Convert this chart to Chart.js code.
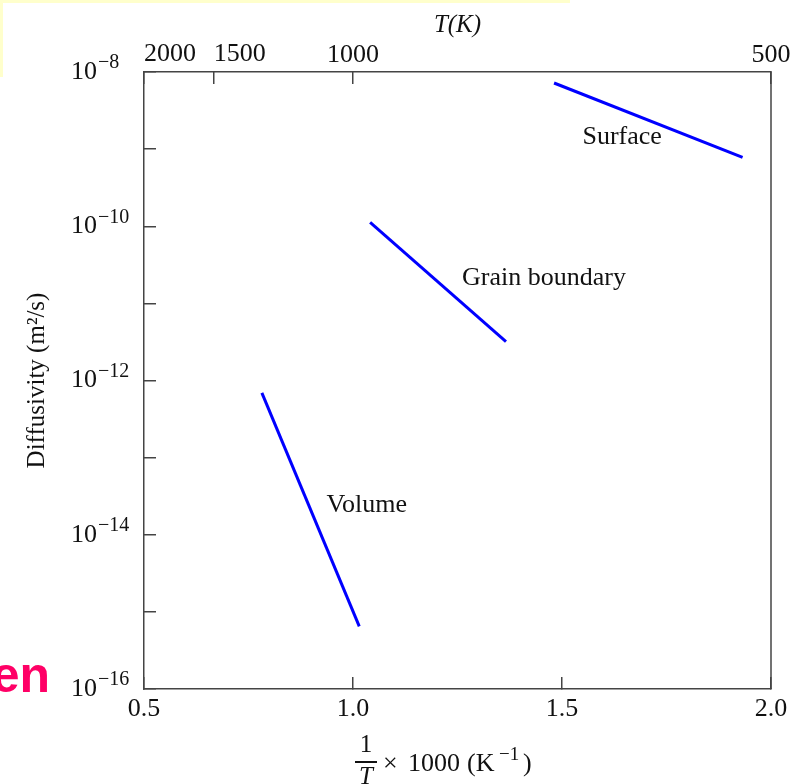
<!DOCTYPE html>
<html>
<head>
<meta charset="utf-8">
<script src="https://cdn.jsdelivr.net/npm/chart.js@4.4.1/dist/chart.umd.min.js"></script>
<style>
  body { margin: 0; background: #fff; }
  canvas { display: block; }
</style>
</head>
<body>
<canvas id="chart" width="800" height="784"></canvas>
<script>
// data (x = 1000/T, y = diffusivity in m^2/s)
const volumeX = [0.782, 1.015];
const volumeD = [6.9e-13, 6.5e-16];
const grainX = [1.041, 1.366];
const grainD = [1.12e-10, 3.2e-12];
const surfaceX = [1.481, 1.932];
const surfaceD = [7.2e-9, 7.8e-10];

// labels next to the lines
const lineLabels = ['Surface', 'Grain boundary', 'Volume'];
const labelX = [1.644, 1.457, 1.033];
const labelD = [1.45e-9, 2.15e-11, 2.4e-14];

// axes
const xTicks = [0.5, 1.0, 1.5, 2.0];
const tempTicksHot = [2000, 1500];   // labels start at the tick
const tempTicksCold = [1000, 500];   // labels centred on the tick
const decadeExps = [-16, -15, -14, -13, -12, -11, -10, -9, -8];

const SERIF = '"Liberation Serif", "DejaVu Serif", serif';
const ink = '#111';
const axisColor = '#444';

function pts(xs, ys) { return xs.map((x, i) => ({x: x, y: ys[i]})); }
function decade(v) { return Math.round(Math.log10(v)); }
function noSidePad(axis) { axis.paddingLeft = 0; axis.paddingRight = 0; }

const lineStyle = {
    borderColor: '#0000ff',
    borderWidth: 3,
    pointRadius: 0,
    fill: false,
    tension: 0
};

const gridStyle = {
    drawOnChartArea: false,
    drawTicks: true,
    tickLength: -12,
    color: axisColor,
    lineWidth: 1.5
};
const tickFont = { family: SERIF, size: 26 };

// exponents of the y labels, line labels, right frame edge, bottom title, slide leftovers
const extras = {
    id: 'extras',
    afterDraw(chart) {
        const ctx = chart.ctx;
        const xs = chart.scales.x, ys = chart.scales.y;
        const area = chart.chartArea;
        ctx.save();

        ctx.strokeStyle = axisColor;
        ctx.lineWidth = 1.5;
        ctx.beginPath();
        ctx.moveTo(area.right, area.top);
        ctx.lineTo(area.right, area.bottom);
        ctx.stroke();

        // superscript exponents after the "10" of each labelled decade
        ctx.fillStyle = ink;
        ctx.font = '20px ' + SERIF;
        ctx.textAlign = 'left';
        ctx.textBaseline = 'middle';
        ys.ticks.forEach((t) => {
            const e = decade(t.value);
            if (e % 2 !== 0) return;
            ctx.fillText('\u2212' + Math.abs(e), 98, ys.getPixelForValue(t.value) - 9);
        });

        // line labels
        ctx.font = '26px ' + SERIF;
        ctx.textAlign = 'center';
        lineLabels.forEach((t, i) => {
            ctx.fillText(t, xs.getPixelForValue(labelX[i]), ys.getPixelForValue(labelD[i]));
        });

        // bottom axis title: 1/T x 1000 (K^-1)
        const fx = 366;
        ctx.textBaseline = 'alphabetic';
        ctx.font = '25px ' + SERIF;
        ctx.fillText('1', fx, 752);
        ctx.font = 'italic 25px ' + SERIF;
        ctx.fillText('T', fx, 784);
        ctx.lineWidth = 2;
        ctx.strokeStyle = ink;
        ctx.beginPath();
        ctx.moveTo(fx - 11, 762);
        ctx.lineTo(fx + 11, 762);
        ctx.stroke();
        ctx.textAlign = 'left';
        ctx.font = '26px ' + SERIF;
        ctx.fillText('\u00D7', 383, 771);
        ctx.fillText('1000', 408, 771);
        ctx.fillText('(K', 467, 771);
        ctx.fillText(')', 523, 771);
        ctx.font = '19px ' + SERIF;
        ctx.fillText('\u22121', 499, 760);

        // slide leftovers: yellow box edge and cut-off heading
        ctx.fillStyle = '#ffffcc';
        ctx.fillRect(0, 0, 570, 3);
        ctx.fillRect(0, 0, 3, 77);
        ctx.fillStyle = '#ff0066';
        ctx.font = 'bold 50px "Liberation Sans", Arial, sans-serif';
        ctx.textAlign = 'right';
        ctx.fillText('en', 50, 692);

        ctx.restore();
    }
};

new Chart(document.getElementById('chart'), {
    type: 'line',
    data: {
        datasets: [
            Object.assign({label: 'Surface', data: pts(surfaceX, surfaceD)}, lineStyle),
            Object.assign({label: 'Grain boundary', data: pts(grainX, grainD)}, lineStyle),
            Object.assign({label: 'Volume', data: pts(volumeX, volumeD)}, lineStyle)
        ]
    },
    options: {
        responsive: false,
        animation: false,
        layout: { padding: { left: 0, right: 29, top: 0, bottom: 0 } },
        plugins: { legend: { display: false }, tooltip: { enabled: false } },
        scales: {
            x: {
                type: 'linear',
                position: 'bottom',
                min: 0.5,
                max: 2.0,
                afterBuildTicks: (axis) => { axis.ticks = xTicks.map(v => ({value: v})); },
                afterFit: (axis) => { axis.height = 95; noSidePad(axis); },
                ticks: {
                    color: ink,
                    padding: 17,
                    maxRotation: 0,
                    font: tickFont,
                    callback: (v) => Number(v).toFixed(1)
                },
                grid: gridStyle,
                border: { color: axisColor, width: 1.5 }
            },
            x2: {
                type: 'linear',
                position: 'top',
                min: 0.5,
                max: 2.0,
                afterBuildTicks: (axis) => { axis.ticks = tempTicksCold.map(t => ({value: 1000 / t})); },
                afterFit: (axis) => { axis.height = 72; noSidePad(axis); },
                ticks: {
                    color: ink,
                    padding: 13,
                    maxRotation: 0,
                    autoSkip: false,
                    font: tickFont,
                    callback: (v) => String(Math.round(1000 / v))
                },
                title: {
                    display: true,
                    text: 'T(K)',
                    color: ink,
                    padding: { top: 10, bottom: 0 },
                    font: { family: SERIF, size: 25, style: 'italic' }
                },
                grid: gridStyle,
                border: { color: axisColor, width: 1.5 }
            },
            // same temperature axis, pinned to the top edge, for the two crowded labels
            x3: {
                type: 'linear',
                position: { y: 1e-8 },
                min: 0.5,
                max: 2.0,
                afterBuildTicks: (axis) => { axis.ticks = tempTicksHot.map(t => ({value: 1000 / t})); },
                ticks: {
                    color: ink,
                    padding: -45,
                    maxRotation: 0,
                    autoSkip: false,
                    align: 'start',
                    font: tickFont,
                    callback: (v) => String(Math.round(1000 / v))
                },
                grid: Object.assign({}, gridStyle, { tickLength: 12 }),
                border: { display: false }
            },
            y: {
                type: 'logarithmic',
                min: 1e-16,
                max: 1e-8,
                afterBuildTicks: (axis) => { axis.ticks = decadeExps.map(e => ({value: Math.pow(10, e)})); },
                afterFit: (axis) => { axis.width = 144; axis.paddingTop = 0; axis.paddingBottom = 0; },
                ticks: {
                    color: ink,
                    padding: 59,
                    autoSkip: false,
                    font: tickFont,
                    callback: (v) => (decade(v) % 2 === 0 ? '10' : '')
                },
                title: {
                    display: true,
                    text: 'Diffusivity (m\u00B2/s)',
                    color: ink,
                    padding: { top: 22, bottom: 0 },
                    font: { family: SERIF, size: 25 }
                },
                grid: gridStyle,
                border: { color: axisColor, width: 1.5 }
            }
        }
    },
    plugins: [extras]
});
</script>
</body>
</html>
